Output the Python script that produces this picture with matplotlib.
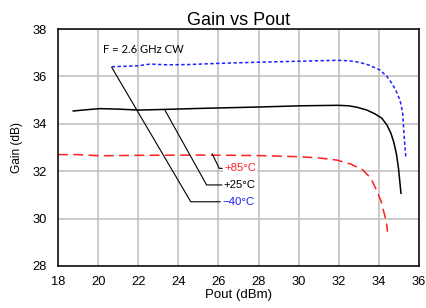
import matplotlib
matplotlib.use("Agg")
import matplotlib.pyplot as plt

plt.rcParams["font.family"] = ["Liberation Sans", "DejaVu Sans"]

# -40 C
pout_m40 = [20.68, 21.5, 22.0, 22.6, 23.4, 24.5, 26.0, 28.0, 30.0, 31.0, 31.9,
            32.5, 33.0, 33.5, 34.05, 34.4, 34.64, 34.85, 35.05, 35.18, 35.25, 35.3, 35.35]
gain_m40 = [36.41, 36.43, 36.45, 36.52, 36.49, 36.50, 36.55, 36.60, 36.64, 36.66, 36.68,
            36.66, 36.60, 36.48, 36.27, 36.0, 35.71, 35.4, 35.0, 34.5, 33.6, 33.0, 32.55]

# +25 C
pout_25 = [18.76, 19.5, 20.1, 21.0, 22.0, 23.0, 25.08, 28.07, 30.1, 31.96, 32.5,
           32.9, 33.4, 33.8, 34.14, 34.4, 34.6, 34.75, 34.88, 34.98, 35.05, 35.1]
gain_25 = [34.54, 34.60, 34.64, 34.62, 34.58, 34.60, 34.65, 34.71, 34.76, 34.78, 34.76,
           34.70, 34.58, 34.42, 34.24, 33.95, 33.6, 33.2, 32.7, 32.1, 31.5, 31.07]

# +85 C
pout_85 = [18.0, 19.0, 20.1, 21.0, 22.0, 25.08, 28.0, 30.06, 31.0, 31.9, 32.6,
           33.2, 33.6, 33.88, 34.1, 34.3, 34.38, 34.43]
gain_85 = [32.70, 32.70, 32.65, 32.66, 32.67, 32.68, 32.66, 32.61, 32.56, 32.47, 32.30,
           32.05, 31.7, 31.2, 30.75, 30.1, 29.8, 29.45]

labels = ["+85°C", "+25°C", "\u221240°C"]
label_colors = ["#ff2020", "black", "#2020ff"]

# leader lines: (start on curve, elbow, end) in data units
leaders = [
    [(25.69, 32.73), (26.04, 32.12), (26.18, 32.12)],
    [(23.33, 34.58), (25.41, 31.42), (26.16, 31.42)],
    [(20.68, 36.38), (24.62, 30.71), (26.08, 30.71)],
]

fig = plt.figure(figsize=(4.27, 3.08), dpi=100)
ax = fig.add_axes([0.1358, 0.1364, 0.8455, 0.7694])

ax.plot(pout_m40, gain_m40, color="#1f1fff", lw=1.1, ls=(0, (2.2, 1.6)))
ax.plot(pout_25, gain_25, color="black", lw=1.1)
ax.plot(pout_85, gain_85, color="#ff1f1f", lw=1.1, ls=(0, (6.5, 3.5)))

for pts, lab, col in zip(leaders, labels, label_colors):
    xs = [p[0] for p in pts]
    ys = [p[1] for p in pts]
    ax.plot(xs, ys, color="black", lw=0.8)
    ax.text(xs[-1] + 0.1, ys[-1], lab, color=col, fontsize=8.2,
            ha="left", va="center",
            bbox=dict(facecolor="white", edgecolor="none", pad=0.6))

ax.text(20.25, 37.14, "F = 2.6 GHz CW", fontsize=8.1, family=["Lato", "DejaVu Sans"],
        ha="left", va="center")

ax.set_xlim(18, 36)
ax.set_ylim(28, 38)
ax.set_xticks(range(18, 37, 2))
ax.set_yticks(range(28, 39, 2))
ax.grid(True, color="#bdbdbd", lw=1.1)
ax.set_axisbelow(True)
ax.tick_params(axis="y", length=0, labelsize=9.3, pad=8)
ax.tick_params(axis="x", length=0, labelsize=9.3, pad=7)
for s in ax.spines.values():
    s.set_linewidth(1.1)

ax.set_xlabel("Pout (dBm)", fontsize=9.5, labelpad=1)
ax.set_ylabel("Gain (dB)", fontsize=8.6, labelpad=7)
ax.set_title("Gain vs Pout", fontsize=13, pad=3)

fig.savefig("out.png", dpi=100)
